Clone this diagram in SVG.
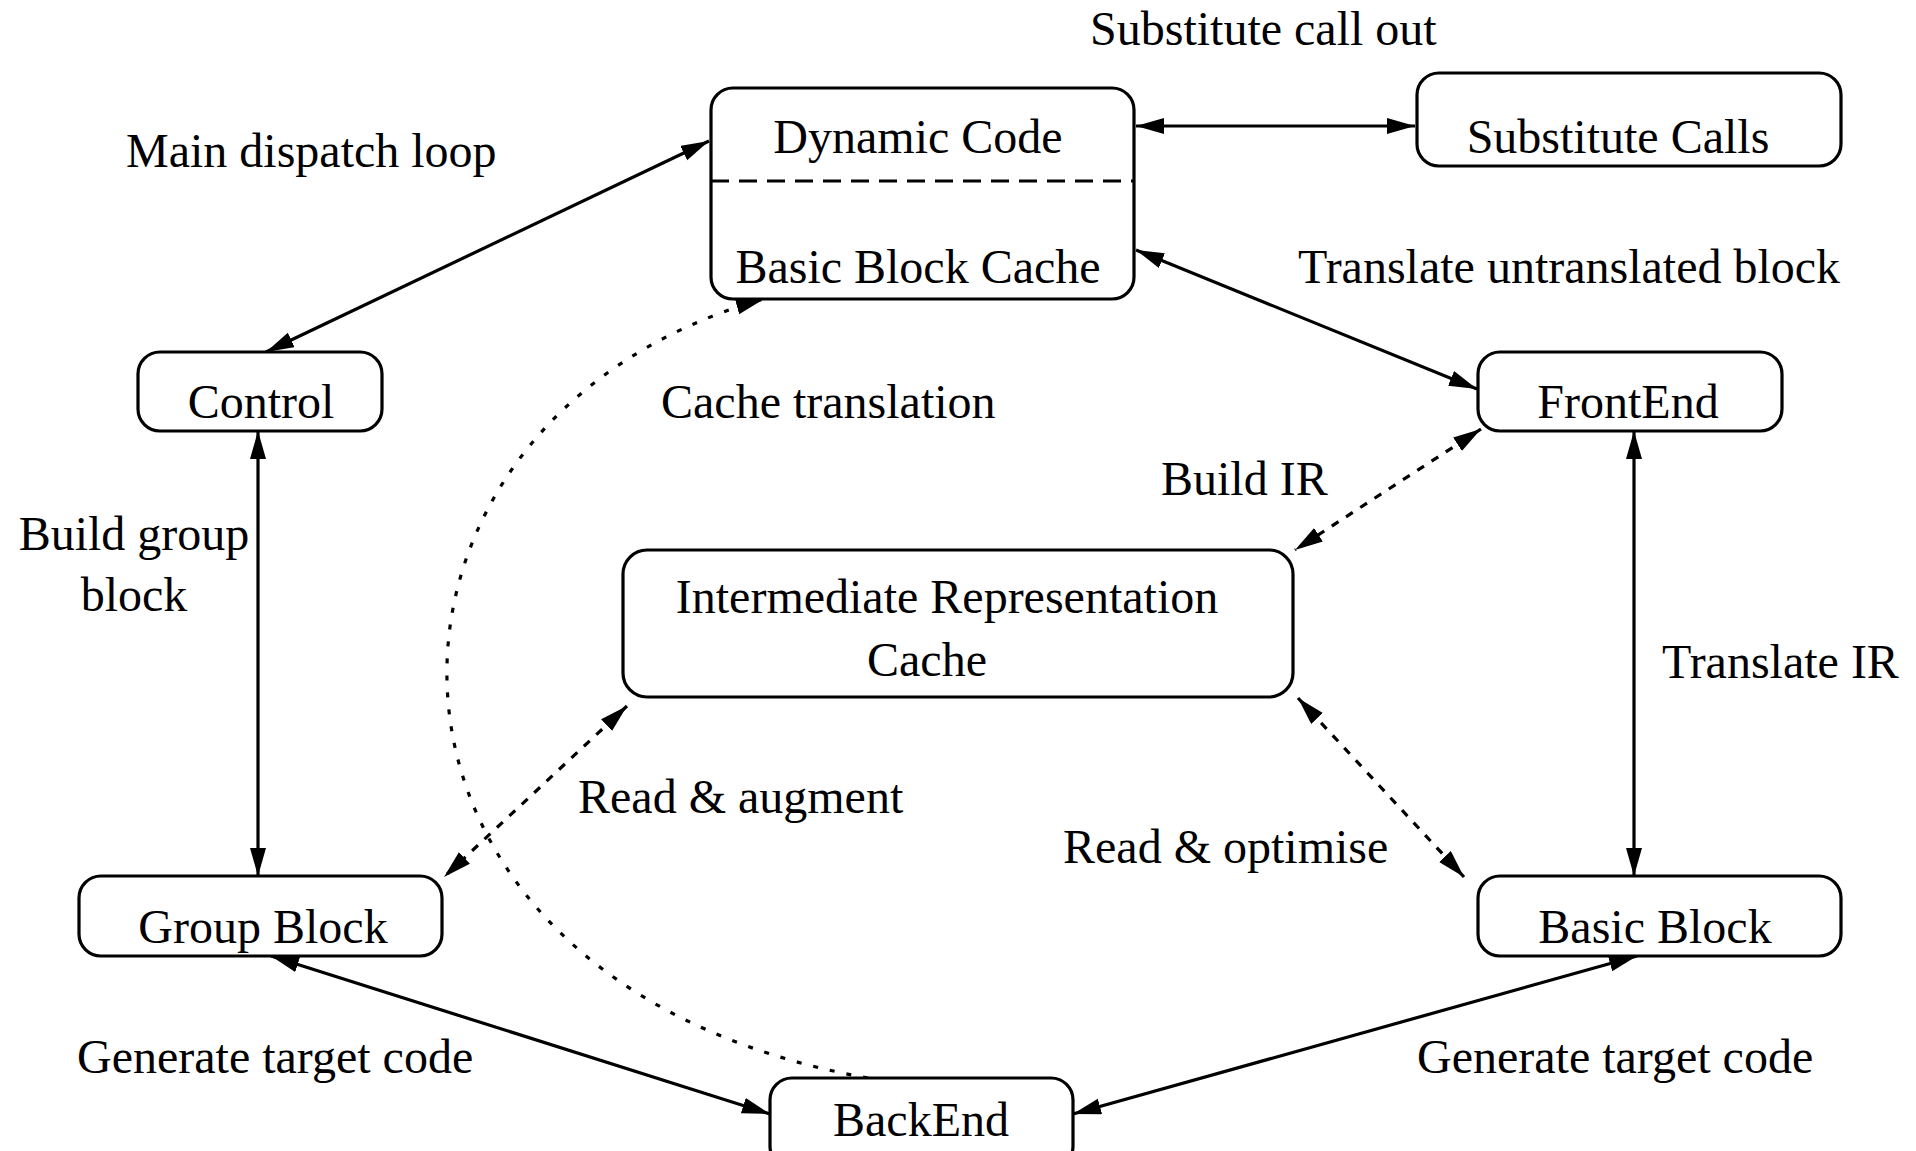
<svg xmlns="http://www.w3.org/2000/svg" width="1916" height="1151" viewBox="0 0 1916 1151">
  <style>
    .box { fill: #fff; stroke: #000; stroke-width: 3.2; }
    .lbl { font-family: "Liberation Serif", "Times New Roman", serif; font-size: 48px; fill: #000; }
    .mid { text-anchor: middle; }
    .edge { fill: none; stroke: #000; stroke-width: 3.2; }
    .dash { stroke-dasharray: 8 9; }
    .dot { stroke-dasharray: 5 12; }
  </style>
  <defs>
    <marker id="arrow" markerUnits="userSpaceOnUse" markerWidth="30" markerHeight="18" refX="28" refY="8" orient="auto-start-reverse">
      <path d="M0,0 L28,8 L0,16 Z" fill="#000"/>
    </marker>
  </defs>

  <rect width="1916" height="1151" fill="#fff"/>

  <!-- connectors -->
  <g id="connectors">
    <!-- Main dispatch loop -->
    <line class="edge" x1="266" y1="352" x2="709" y2="141" marker-start="url(#arrow)" marker-end="url(#arrow)"/>
    <!-- Substitute call out -->
    <line class="edge" x1="1136" y1="126" x2="1415" y2="126" marker-start="url(#arrow)" marker-end="url(#arrow)"/>
    <!-- Translate untranslated block -->
    <line class="edge" x1="1136" y1="250" x2="1477" y2="389" marker-start="url(#arrow)" marker-end="url(#arrow)"/>
    <!-- Build IR -->
    <line class="edge dash" x1="1481" y1="429" x2="1295" y2="550" marker-start="url(#arrow)" marker-end="url(#arrow)"/>
    <!-- Read & optimise -->
    <line class="edge dash" x1="1298" y1="698" x2="1464" y2="877" marker-start="url(#arrow)" marker-end="url(#arrow)"/>
    <!-- Translate IR -->
    <line class="edge" x1="1634" y1="431" x2="1634" y2="876" marker-start="url(#arrow)" marker-end="url(#arrow)"/>
    <!-- Build group block -->
    <line class="edge" x1="258" y1="431" x2="258" y2="876" marker-start="url(#arrow)" marker-end="url(#arrow)"/>
    <!-- Read & augment -->
    <line class="edge dash" x1="627" y1="706" x2="444" y2="877" marker-start="url(#arrow)" marker-end="url(#arrow)"/>
    <!-- Generate target code (group block) -->
    <line class="edge" x1="271" y1="956" x2="770" y2="1114" marker-start="url(#arrow)" marker-end="url(#arrow)"/>
    <!-- Generate target code (basic block) -->
    <line class="edge" x1="1637" y1="956" x2="1073" y2="1114" marker-start="url(#arrow)" marker-end="url(#arrow)"/>
    <!-- Cache translation -->
    <path class="edge dot" d="M868,1078 C320,980 330,420 764,299" marker-end="url(#arrow)"/>
  </g>

  <!-- nodes -->
  <g id="dynamic-code">
    <rect class="box" x="711" y="88" width="423" height="211" rx="22"/>
    <line x1="711" y1="181" x2="1134" y2="181" stroke="#000" stroke-width="3.2" stroke-dasharray="18 10"/>
    <text class="lbl mid" x="918" y="153">Dynamic Code</text>
    <text class="lbl mid" x="918" y="283">Basic Block Cache</text>
  </g>

  <g id="substitute-calls">
    <rect class="box" x="1417" y="73" width="424" height="93" rx="22"/>
    <text class="lbl mid" x="1618" y="153">Substitute Calls</text>
  </g>

  <g id="control">
    <rect class="box" x="138" y="352" width="244" height="79" rx="22"/>
    <text class="lbl mid" x="261" y="418">Control</text>
  </g>

  <g id="frontend">
    <rect class="box" x="1478" y="352" width="304" height="79" rx="22"/>
    <text class="lbl mid" x="1628" y="418">FrontEnd</text>
  </g>

  <g id="ir-cache">
    <rect class="box" x="623" y="550" width="670" height="147" rx="24"/>
    <text class="lbl mid" x="947" y="613">Intermediate Representation</text>
    <text class="lbl mid" x="927" y="676">Cache</text>
  </g>

  <g id="group-block">
    <rect class="box" x="79" y="876" width="363" height="80" rx="22"/>
    <text class="lbl mid" x="263" y="943">Group Block</text>
  </g>

  <g id="basic-block">
    <rect class="box" x="1478" y="876" width="363" height="80" rx="22"/>
    <text class="lbl mid" x="1655" y="943">Basic Block</text>
  </g>

  <g id="backend">
    <rect class="box" x="770" y="1078" width="303" height="90" rx="22"/>
    <text class="lbl mid" x="921" y="1136">BackEnd</text>
  </g>

  <!-- edge labels -->
  <g id="labels">
    <text class="lbl" x="1090" y="45">Substitute call out</text>
    <text class="lbl" x="126" y="167">Main dispatch loop</text>
    <text class="lbl" x="1298" y="283">Translate untranslated block</text>
    <text class="lbl" x="661" y="418">Cache translation</text>
    <text class="lbl" x="1161" y="495">Build IR</text>
    <text class="lbl mid" x="134" y="550">Build group</text>
    <text class="lbl mid" x="134" y="611">block</text>
    <text class="lbl" x="1662" y="678">Translate IR</text>
    <text class="lbl" x="578" y="813">Read &amp; augment</text>
    <text class="lbl" x="1063" y="863">Read &amp; optimise</text>
    <text class="lbl" x="77" y="1073">Generate target code</text>
    <text class="lbl" x="1417" y="1073">Generate target code</text>
  </g>
</svg>
